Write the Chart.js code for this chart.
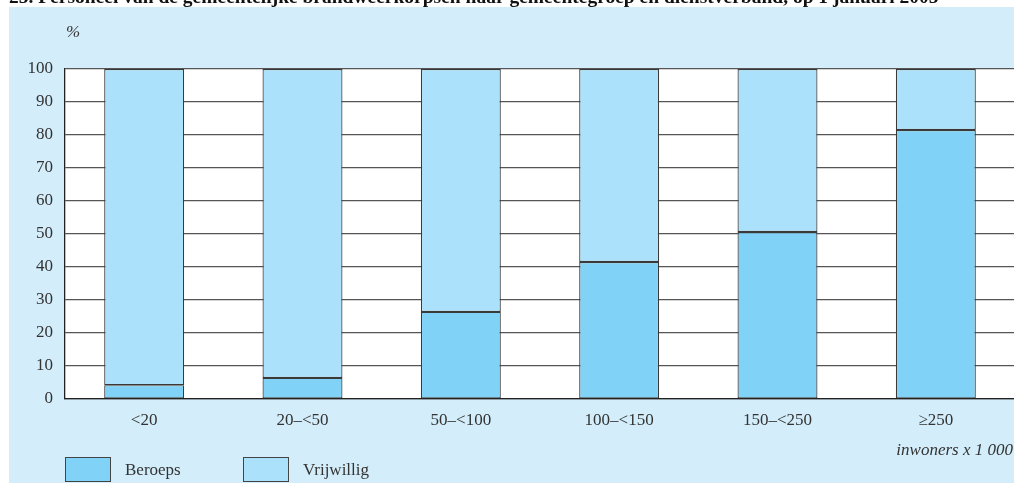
<!DOCTYPE html>
<html>
<head>
<meta charset="utf-8">
<script src="https://cdn.jsdelivr.net/npm/chart.js@4"></script>
<style>
  html, body { margin: 0; padding: 0; background: #ffffff; overflow: hidden; }
  #wrap { position: relative; width: 1020px; height: 483px; }
</style>
</head>
<body>
<div id="wrap"><canvas id="brandweerChart" width="1020" height="483"></canvas></div>
<script>
// data
const categories = ['<20', '20–<50', '50–<100', '100–<150', '150–<250', '≥250'];
const beroeps = [4.2, 6.4, 26.4, 41.5, 50.6, 81.5];
const vrijwillig = [95.8, 93.6, 73.6, 58.5, 49.4, 18.5];
const yTicks = [0, 10, 20, 30, 40, 50, 60, 70, 80, 90, 100];

const titleText = '25. Personeel van de gemeentelijke brandweerkorpsen naar gemeentegroep en dienstverband, op 1 januari 2005';
const serif = '"Liberation Serif", "Times New Roman", serif';

// background panel, white plot area and the extra texts / legend
const panelPlugin = {
    id: 'panel',
    beforeDraw(chart) {
        const { ctx, chartArea } = chart;
        ctx.save();
        ctx.fillStyle = '#d3eefa';
        ctx.fillRect(9, 7, chart.width - 9, chart.height - 7);
        ctx.fillStyle = '#ffffff';
        ctx.fillRect(chartArea.left, chartArea.top, chartArea.right - chartArea.left, chartArea.bottom - chartArea.top);
        ctx.restore();
    },
    afterDraw(chart) {
        const ctx = chart.ctx;
        ctx.save();
        // title, cut off at the top like the reference
        ctx.fillStyle = '#111';
        ctx.font = 'bold 19.5px ' + serif;
        ctx.textBaseline = 'alphabetic';
        ctx.textAlign = 'left';
        ctx.fillText(titleText, 9, 3);

        ctx.fillStyle = '#333';
        ctx.font = 'italic 17px ' + serif;
        ctx.textBaseline = 'middle';
        ctx.fillText('%', 66, 33);

        ctx.textAlign = 'right';
        ctx.fillText('inwoners x 1 000', 1013, 451);

        // legend
        ctx.textAlign = 'left';
        ctx.font = '17px ' + serif;
        const items = chart.data.datasets;
        const xs = [65, 243];
        items.forEach((ds, i) => {
            ctx.fillStyle = ds.backgroundColor;
            ctx.fillRect(xs[i], 457, 45, 24);
            ctx.strokeStyle = '#444';
            ctx.lineWidth = 1;
            ctx.strokeRect(xs[i] + 0.5, 457.5, 45, 24);
            ctx.fillStyle = '#333';
            ctx.fillText(ds.label, xs[i] + 60, 471);
        });
        ctx.restore();
    }
};

const ctx = document.getElementById('brandweerChart').getContext('2d');
new Chart(ctx, {
    type: 'bar',
    data: {
        labels: categories,
        datasets: [
            {
                label: 'Beroeps',
                data: beroeps,
                backgroundColor: '#80d3f6',
                borderColor: '#3a3a3a',
                borderWidth: 1.2,
                borderSkipped: false,
                barPercentage: 0.505,
                categoryPercentage: 1
            },
            {
                label: 'Vrijwillig',
                data: vrijwillig,
                backgroundColor: '#abe1fa',
                borderColor: '#3a3a3a',
                borderWidth: 1.2,
                borderSkipped: false,
                barPercentage: 0.505,
                categoryPercentage: 1
            }
        ]
    },
    options: {
        responsive: false,
        animation: false,
        devicePixelRatio: 1,
        layout: { padding: { top: 69, right: 5, left: 0, bottom: 0 } },
        plugins: {
            legend: { display: false },
            tooltip: { enabled: false }
        },
        scales: {
            x: {
                stacked: true,
                afterFit(scale) { scale.height = 84; },
                grid: { display: false, drawTicks: false },
                border: { display: true, color: '#222', width: 1.3 },
                ticks: {
                    padding: 11,
                    autoSkip: false,
                    maxRotation: 0,
                    minRotation: 0,
                    color: '#333',
                    font: { family: serif, size: 17 }
                }
            },
            y: {
                stacked: true,
                min: 0,
                max: 100,
                afterFit(scale) { scale.width = 65; },
                afterBuildTicks(scale) { scale.ticks = yTicks.map(v => ({ value: v })); },
                grid: { color: '#555', lineWidth: 1.3, drawTicks: false },
                border: { display: true, color: '#222', width: 1.3 },
                ticks: {
                    padding: 12,
                    color: '#333',
                    font: { family: serif, size: 17 }
                }
            }
        }
    },
    plugins: [panelPlugin]
});
</script>
</body>
</html>
